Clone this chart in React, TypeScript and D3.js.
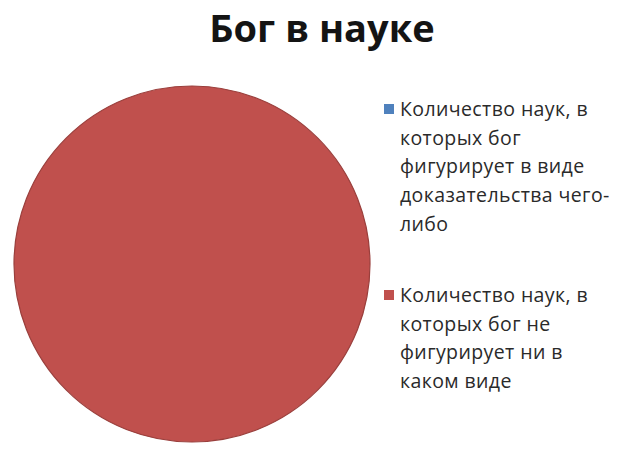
import React, { useRef, useEffect } from 'react';
import * as d3 from 'd3';

const title = 'Бог в науке';

// legend labels, already split into lines as in the original chart
const categories: string[][] = [
  ['Количество наук, в', 'которых бог', 'фигурирует в виде', 'доказательства чего-', 'либо'],
  ['Количество наук, в', 'которых бог не', 'фигурирует ни в', 'каком виде'],
];
const values: number[] = [0, 100];
const colors: string[] = ['#4F81BD', '#C0504D'];

const App: React.FC = () => {
  const svgRef = useRef<SVGSVGElement>(null);
  const width = 640;
  const height = 452;
  const center = { x: 192, y: 264 };
  const radius = 178;
  const font = '"Open Sans", "Noto Sans", sans-serif';

  useEffect(() => {
    if (!svgRef.current) return;
    const svg = d3.select(svgRef.current);
    svg.selectAll('*').remove();

    svg.append('rect').attr('width', width).attr('height', height).attr('fill', '#ffffff');

    // Title
    svg.append('text')
      .attr('x', 322)
      .attr('y', 42)
      .attr('text-anchor', 'middle')
      .attr('font-family', font)
      .attr('font-weight', 700)
      .attr('font-size', 38)
      .attr('fill', '#141414')
      .text(title);

    // Pie
    const pie = d3.pie<number>().sort(null).startAngle(0).endAngle(2 * Math.PI);
    const arc = d3.arc<d3.PieArcDatum<number>>().innerRadius(0).outerRadius(radius);
    const g = svg.append('g').attr('transform', `translate(${center.x},${center.y})`);
    g.selectAll('path')
      .data(pie(values).filter(d => d.value > 0))
      .join('path')
      .attr('d', arc)
      .attr('fill', d => colors[d.index])
      .attr('stroke', '#9a3f3c')
      .attr('stroke-width', 1.2);

    // Legend
    const legendTop = [116, 302];
    const lineHeight = 28.7;
    categories.forEach((lines, i) => {
      const lg = svg.append('g');
      lg.append('rect')
        .attr('x', 384)
        .attr('y', legendTop[i] - 12)
        .attr('width', 10)
        .attr('height', 10)
        .attr('fill', colors[i]);
      lines.forEach((line, j) => {
        lg.append('text')
          .attr('x', 400)
          .attr('y', legendTop[i] + j * lineHeight)
          .attr('font-family', font)
          .attr('font-size', 19.5)
          .attr('letter-spacing', 0.4)
          .attr('fill', '#2a2a2a')
          .text(line);
      });
    });
  }, []);

  return (
    <svg
      ref={svgRef}
      width={width}
      height={height}
      style={{ position: 'absolute', left: 0, top: 0 }}
    />
  );
};

export default App;
